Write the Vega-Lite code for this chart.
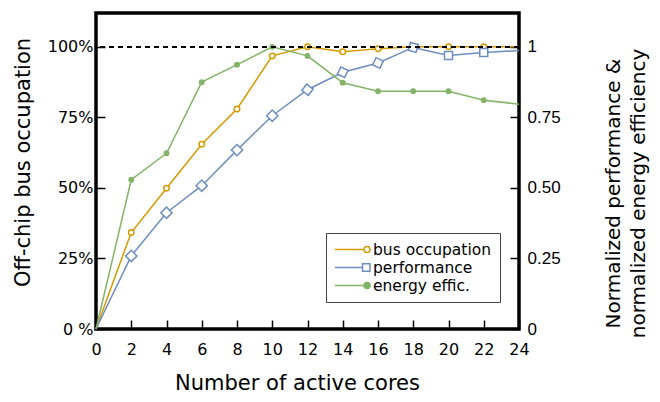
{
  "$schema": "https://vega.github.io/schema/vega-lite/v6.json",
  "width": 423,
  "height": 316,
  "autosize": {"type": "none"},
  "padding": {"left": 96, "top": 13, "right": 141, "bottom": 73},
  "config": {
    "font": "DejaVu Sans",
    "view": {"stroke": "black", "strokeWidth": 3.5},
    "axis": {
      "domain": false,
      "grid": false,
      "tickColor": "black",
      "tickWidth": 1.5,
      "tickSize": -9,
      "labelColor": "black",
      "titleColor": "black",
      "titleFontWeight": "normal",
      "labelOverlap": false,
      "labelFlush": false
    }
  },
  "data": {
    "values": [
      {"cores": 0, "series": "bus occupation", "value": 0},
      {"cores": 2, "series": "bus occupation", "value": 0.342},
      {"cores": 4, "series": "bus occupation", "value": 0.499},
      {"cores": 6, "series": "bus occupation", "value": 0.655},
      {"cores": 8, "series": "bus occupation", "value": 0.78},
      {"cores": 10, "series": "bus occupation", "value": 0.968},
      {"cores": 12, "series": "bus occupation", "value": 1.0},
      {"cores": 14, "series": "bus occupation", "value": 0.983},
      {"cores": 16, "series": "bus occupation", "value": 0.993},
      {"cores": 18, "series": "bus occupation", "value": 1.0},
      {"cores": 20, "series": "bus occupation", "value": 1.0},
      {"cores": 22, "series": "bus occupation", "value": 1.0},
      {"cores": 24, "series": "bus occupation", "value": 1.0},
      {"cores": 0, "series": "performance", "value": 0},
      {"cores": 2, "series": "performance", "value": 0.259},
      {"cores": 4, "series": "performance", "value": 0.412},
      {"cores": 6, "series": "performance", "value": 0.508},
      {"cores": 8, "series": "performance", "value": 0.634},
      {"cores": 10, "series": "performance", "value": 0.756},
      {"cores": 12, "series": "performance", "value": 0.848},
      {"cores": 14, "series": "performance", "value": 0.91},
      {"cores": 16, "series": "performance", "value": 0.943},
      {"cores": 18, "series": "performance", "value": 0.998},
      {"cores": 20, "series": "performance", "value": 0.969},
      {"cores": 22, "series": "performance", "value": 0.98},
      {"cores": 24, "series": "performance", "value": 0.987},
      {"cores": 0, "series": "energy effic.", "value": 0},
      {"cores": 2, "series": "energy effic.", "value": 0.529},
      {"cores": 4, "series": "energy effic.", "value": 0.623},
      {"cores": 6, "series": "energy effic.", "value": 0.875},
      {"cores": 8, "series": "energy effic.", "value": 0.937},
      {"cores": 10, "series": "energy effic.", "value": 1.0},
      {"cores": 12, "series": "energy effic.", "value": 0.968},
      {"cores": 14, "series": "energy effic.", "value": 0.873},
      {"cores": 16, "series": "energy effic.", "value": 0.843},
      {"cores": 18, "series": "energy effic.", "value": 0.843},
      {"cores": 20, "series": "energy effic.", "value": 0.843},
      {"cores": 22, "series": "energy effic.", "value": 0.811},
      {"cores": 24, "series": "energy effic.", "value": 0.797}
    ]
  },
  "layer": [
    {
      "encoding": {
        "x": {
          "field": "cores",
          "type": "quantitative",
          "scale": {"domain": [0, 24], "nice": false},
          "axis": {
            "values": [0, 2, 4, 6, 8, 10, 12, 14, 16, 18, 20, 22, 24],
            "labelFontSize": 16,
            "labelPadding": 21,
            "title": "Number of active cores",
            "titleFontSize": 21,
            "titleX": 201,
            "titleY": 54,
            "titleBaseline": "middle",
            "titleAlign": "center"
          }
        },
        "y": {
          "field": "value",
          "type": "quantitative",
          "scale": {"domain": [0, 1.12], "nice": false},
          "axis": {
            "values": [0, 0.25, 0.5, 0.75, 1],
            "labelExpr": "datum.value === 0 ? '0 %' : format(datum.value, '.0%')",
            "labelFontSize": 16,
            "labelPadding": 12,
            "title": "Off-chip bus occupation",
            "titleFontSize": 21,
            "titleAngle": 270,
            "titleX": -73,
            "titleY": 149,
            "titleBaseline": "middle",
            "titleAlign": "center"
          }
        }
      },
      "layer": [
        {
          "mark": {"type": "line", "strokeWidth": 1.5},
          "encoding": {
            "color": {
              "field": "series",
              "type": "nominal",
              "scale": {
                "domain": ["bus occupation", "performance", "energy effic."],
                "range": ["#D79B00", "#6C8EBF", "#82B366"]
              },
              "legend": {
                "orient": "none",
                "legendX": 230,
                "legendY": 220,
                "title": null,
                "padding": 8,
                "strokeColor": "#444444",
                "fillColor": "white",
                "labelFont": "DejaVu Sans",
                "labelFontSize": 15.5,
                "labelColor": "black",
                "symbolSize": 1225,
                "symbolStrokeWidth": 1.5,
                "clipHeight": 17,
                "rowPadding": 1,
                "labelOffset": 2,
                "encode": {
                  "symbols": {
                    "update": {
                      "shape": {"signal": "datum.value === 'performance' ? 'M-1,0L0.572,0M0.572,-0.214L1,-0.214L1,0.214L0.572,0.214Z' : 'M-1,0L0.66,0M0.66,0A0.17,0.17,0,1,0,1,0A0.17,0.17,0,1,0,0.66,0Z'"},
                      "fill": {"signal": "datum.value === 'energy effic.' ? '#82B366' : 'white'"}
                    }
                  }
                }
              }
            }
          }
        },
        {
          "transform": [{"filter": "datum.series === 'bus occupation' && datum.cores > 0 && datum.cores < 24"}],
          "mark": {"type": "point", "shape": "circle", "filled": true, "fill": "white", "stroke": "#D79B00", "strokeWidth": 1.5, "size": 30, "opacity": 1}
        },
        {
          "transform": [{"filter": "datum.series === 'performance' && datum.cores > 0 && datum.cores < 24"}],
          "mark": {"type": "point", "shape": "square", "filled": true, "fill": "white", "stroke": "#6C8EBF", "strokeWidth": 1.5, "size": 64, "opacity": 1},
          "encoding": {
            "angle": {
              "condition": [
                {"test": "datum.cores <= 10", "value": 45},
                {"test": "datum.cores <= 12", "value": 38},
                {"test": "datum.cores <= 16", "value": 25},
                {"test": "datum.cores <= 18", "value": 15}
              ],
              "value": 0
            }
          }
        },
        {
          "transform": [{"filter": "datum.series === 'energy effic.' && datum.cores > 0 && datum.cores < 24"}],
          "mark": {"type": "circle", "color": "#82B366", "size": 34, "opacity": 1}
        }
      ]
    },
    {
      "mark": {"type": "rule", "strokeDash": [5, 4], "strokeWidth": 1.5, "color": "black"},
      "encoding": {
        "y": {
          "datum": 1,
          "type": "quantitative",
          "scale": {"domain": [0, 1.12], "nice": false},
          "axis": {
            "orient": "right",
            "values": [0, 0.25, 0.5, 0.75, 1],
            "labelExpr": "datum.value === 1 ? '1' : datum.value === 0 ? '0' : format(datum.value, '.2f')",
            "labelFont": "Liberation Sans",
            "labelFontSize": 17,
            "labelPadding": 17,
            "title": ["Normalized performance &", "normalized energy efficiency"],
            "titleFontSize": 20,
            "titleAngle": 270,
            "titleX": 94,
            "titleY": 180,
            "titleBaseline": "middle",
            "titleAlign": "center",
            "titleLineHeight": 25
          }
        }
      }
    }
  ],
  "resolve": {"scale": {"y": "independent"}}
}
